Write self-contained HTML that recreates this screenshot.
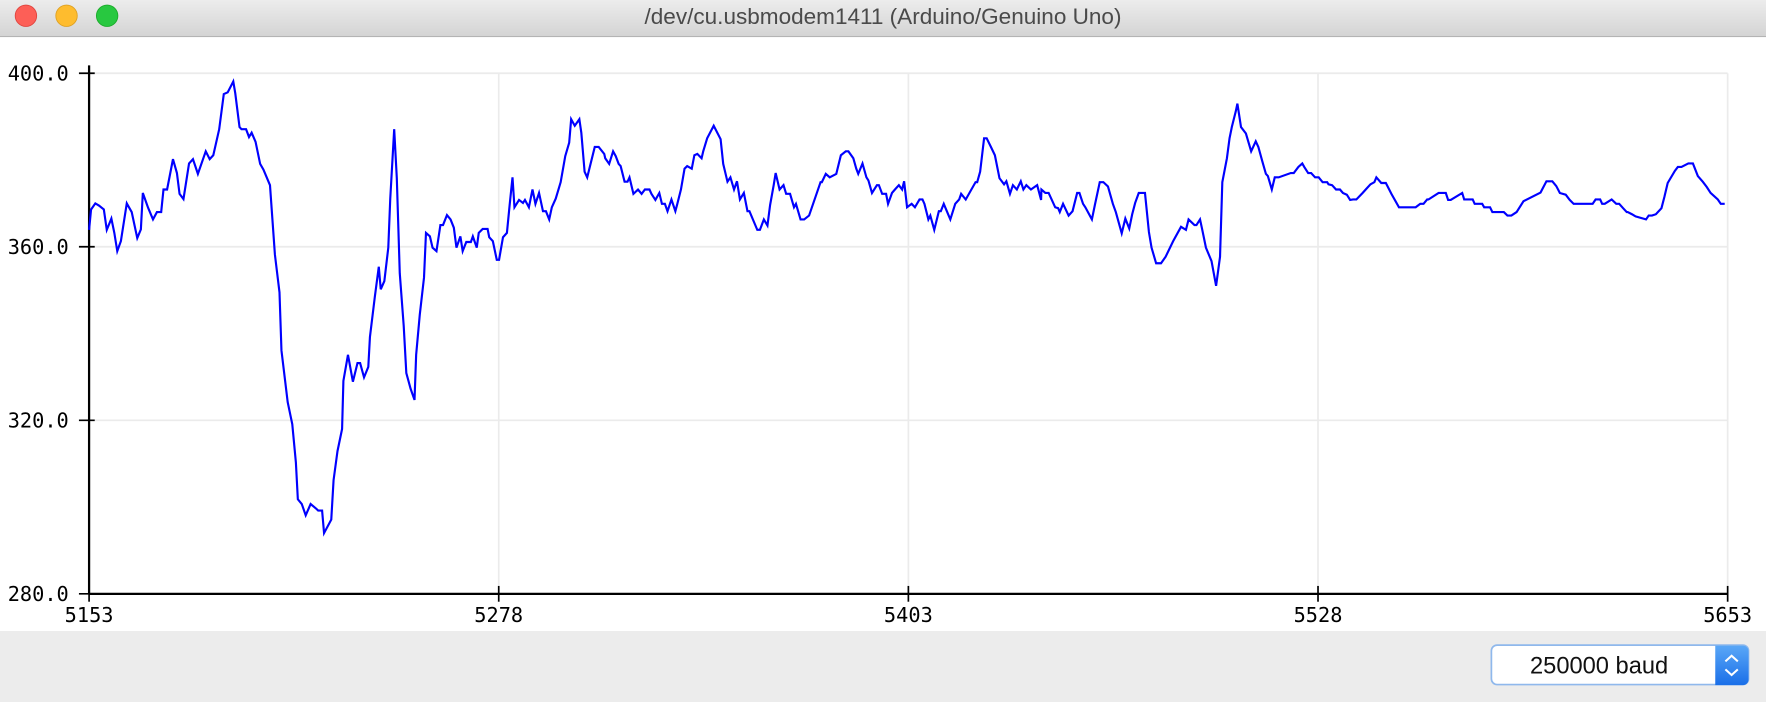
<!DOCTYPE html>
<html><head><meta charset="utf-8"><style>
html,body{margin:0;padding:0;background:#ececec;overflow:hidden}
svg{display:block}
</style></head><body>
<svg id="chart" width="1766" height="702" viewBox="0 0 1566 623" preserveAspectRatio="none" xmlns="http://www.w3.org/2000/svg">
<defs>
<linearGradient id="tb" x1="0" y1="0" x2="0" y2="1"><stop offset="0" stop-color="#ececec"/><stop offset="1" stop-color="#d4d4d4"/></linearGradient>
<linearGradient id="bl" x1="0" y1="0" x2="0" y2="1"><stop offset="0" stop-color="#5aa7f7"/><stop offset="1" stop-color="#1a6fe8"/></linearGradient>
</defs>
<rect x="0" y="0" width="1566" height="623" fill="#ececec"/>
<g>
<rect x="0" y="0" width="1566" height="32" fill="url(#tb)"/>
<line x1="0" y1="32.5" x2="1566" y2="32.5" stroke="#b4b4b4" stroke-width="1"/>
<circle cx="23" cy="14" r="9.5" fill="#fd5f57" stroke="#e0443e" stroke-width="0.8"/>
<circle cx="59" cy="14" r="9.5" fill="#febc2e" stroke="#dea123" stroke-width="0.8"/>
<circle cx="95" cy="14" r="9.5" fill="#28c840" stroke="#1aab29" stroke-width="0.8"/>
<text x="783" y="21.5" text-anchor="middle" font-family="Liberation Sans, sans-serif" font-size="20" fill="#4a4a4a">/dev/cu.usbmodem1411 (Arduino/Genuino Uno)</text>
</g>
<rect x="0" y="33" width="1566" height="527" fill="#ffffff"/>
<g id="grid"></g>
<g id="axes"></g>
<polyline id="series" fill="none" stroke="#0000ff" stroke-width="1.9" stroke-linejoin="miter"/>
<g>
<rect x="1322.5" y="572.5" width="228" height="35" rx="5" fill="#ffffff" stroke="#8fb8ec" stroke-width="1.5"/>
<path d="M1521,573 h24.5 a5 5 0 0 1 5 5 v25 a5 5 0 0 1 -5 5 h-24.5 z" fill="url(#bl)"/>
<path d="M1530,587 l5.5,-5 l5.5,5 M1530,594 l5.5,5 l5.5,-5" fill="none" stroke="#fff" stroke-width="1.8"/>
<text x="1418" y="597.5" text-anchor="middle" font-family="Liberation Sans, sans-serif" font-size="21" fill="#111">250000 baud</text>
</g>
</svg>
<script>
const xTicks = [5153, 5278, 5403, 5528, 5653];
const yTicks = [280, 320, 360, 400];
const startSample = 5153;
const samples = [0,0.6,1.9,3,4.5,5.4,6.8,7.7,8.6,9.7,11.5,13,14.7,15.8,16.4,18,19.5,20.7,22,22.7,23.8,25.6,26.8,27.6,28.8,30.5,31.7,33.2,35.6,36.8,37.9,39.7,41.1,42.3,44,44.6,45.9,46.5,47.9,48.8,49.6,50.8,52.2,53.2,55.2,56.7,58.1,58.7,60.6,62,63.1,63.7,64.9,66.1,67.6,69.2,69.9,71.1,71.7,73.9,74.6,75.8,77.2,77.6,79,80.5,81.9,82.7,83.9,85.2,85.7,87.2,88.4,89,90.1,91.3,91.9,93.1,93.9,94.8,96,96.8,98.1,99.3,99.8,100.9,102.2,102.8,104,104.8,106,107.2,108,109.2,110.3,111.3,112.1,113.3,114,115.1,116.5,117.1,118.3,118.9,120.1,121.6,122.1,123.2,124.4,125.1,126.3,127.5,128.3,129.2,129.8,131.2,132.4,133,134.2,135.3,136.2,137.3,138.5,139.4,140.4,141.2,142.4,143.9,145.3,146.5,147.1,148.2,149.6,150.2,151.2,152,154.3,155.5,157.2,157.5,158.7,159.9,160.7,161.6,162.2,163.4,164.3,164.9,166.1,167.5,168.6,169.6,171,171.6,172.8,174,174.8,175.7,176.5,177.7,178.9,179.5,180.6,181.7,182.5,183.9,184.7,185.6,186.9,187.4,188.6,190.6,192.7,193.5,194.8,195.7,196.8,197.7,198.6,199.8,200.9,201.5,203.9,204.7,205.9,207,207.8,208.9,209.5,210.7,211.9,212.7,213.9,215.1,215.7,217.1,218.2,219.7,223.2,223.6,224.8,226,228,229.4,230.9,231.7,233.2,234.1,234.7,236,237.2,237.8,238.9,240.4,241,242,243.2,243.8,245,245.9,247.1,248.1,248.7,249.6,251,252,253.4,254.3,254.9,256.1,256.7,257.9,259.3,259.9,260.8,262.3,262.8,264.3,265.5,266.1,267.5,270.5,271,271.9,273.1,273.9,275.2,276.4,277.8,279.2,279.9,281,281.9,283.1,284.3,285.1,286,287.4,289.3,290.5,290.6,291.8,292.8,294.8,295.7,296.2,297.2,298.9,300.1,301.5,302.2,303.3,304,306,306.9,308.4,309.5,310.9,312.4,313.3,315.1,316.2,317.4,318.3,319.2,320.3,322.2,323.4,324.2,325.6,327.1,328.5,330.8,333.2,334.7,335.5,337.3,337.9,339,339.6,340.8,342.5,343.9,345.1,345.8,347.2,348,348.7,349.9,350.4,351.5,353,354.6,356,356.8,358,359.1,359.7,360.9,361.8,363,366.7,367.6,369,370.2,370.8,372,372.9,374.1,375.2,376.4,377.8,378.2,379.3,380.5,381.7,382.6,383.8,384.8,385.7,386.7,388.6,389.8,391,392.2,392.8,394.3,395.7,397.4,399.7,403.9,404.8,406.2,407.2,408.3,408.7,411.8,412.8,414,414.7,415.5,419,419.6,422.2,422.8,425.1,425.7,427.5,428.2,431.7,432.8,434,435.6,437.7,442.9,444.7,446.5,447.7,448.8,450.6,451.8,453,458.8,459.7,461.1,461.7,462.5,464.6,466,466.9,468.1,469.2,469.5,470.8,471.9,475.1,475.9,476.9,478.1,479.8,480.7,481.7,483.9,484.8,485.9,488,489.4,490.9,492.4,493.6,494.8,497,497.9,499.1];
const values = [363.9,368.6,370,369.5,368.6,363.9,366.5,363.2,359,361.3,370,368,362,364,372.4,369,366.3,368,368,373.2,373.2,380.2,377,372.2,371,379.2,380.2,376.8,382,380.2,381.1,387.1,395.2,395.6,398.1,395.4,387.6,387.1,387.1,385.3,386.3,384.2,379.1,377.8,374.2,358.2,349.5,336.1,324.2,319.1,310.3,301.8,300.7,298.1,300.7,299.7,299.2,299.2,294,297.1,306.2,312.9,318,329.1,335.1,328.9,333.2,333.2,329.9,332.3,339.2,348.5,355.4,350.2,352.1,359.8,371.1,387.1,375.8,353.9,341.8,330.9,327.3,324.7,335.1,344.3,352.9,363.2,362.4,359.8,359,365,365,367.3,366.3,364.4,359.8,362.4,359,361.1,361.1,362.4,359.8,363.2,364.1,364.1,362.2,361.3,357,357,362.2,363.2,369.4,376,369.1,370.8,370.1,370.8,369.1,373.2,369.9,372.4,368.2,368.2,366.3,369.1,371.1,374.9,380.9,384,389.4,387.9,389.4,386.3,377.3,376,383,383,381.4,380.4,379.1,382,380.9,379.1,378.6,375,375,376,372.2,373.2,372.2,373.2,373.2,372.2,370.8,372.4,369.9,369.9,368.2,370.9,368.2,369.9,373.2,378,378.6,378,381.1,381.4,380.4,382,385,387.9,384.8,379.1,375,376,373.2,375.1,370.9,372.4,368.2,368.2,363.9,363.9,366.3,364.9,369.6,374.2,377,373.2,374.2,372.2,372.2,369.1,369.9,366.3,366.3,367.2,374.9,374.9,376.8,376,376.8,381.1,382,382,380.4,378,376.8,379.2,376,375.3,372.4,374.2,374.2,372.2,372.2,369.9,372.4,373.2,374.2,373.2,375.1,369.1,369.9,369.1,370.9,370.9,369.9,366.3,367.2,363.9,368.2,368.2,369.9,367.2,366.3,369.9,370.9,372.2,370.9,374.9,374.9,377.3,385,385,383,381.1,375.8,374.4,375.1,372.2,374.2,373.2,375.1,373.2,374.2,373.2,374.2,370.8,373.2,372.4,372.4,369.1,368.9,368,369.9,367.2,368.2,372.4,372.4,369.9,369.1,366.3,369.6,374.9,374.9,373.9,369.9,368,363.1,366.5,364.2,367.5,370.1,372.4,372.4,363.4,359.8,356.2,356.2,357.7,361.3,364.6,363.9,366.3,365,365,366.3,364.2,359.8,356.7,351,357.7,374.9,380.4,385,387.6,391.2,393,387.6,386.1,382,384.3,383,379.7,376.8,376.3,373.2,376,376,377,377,378.4,379.2,378.4,377,377,376,376,374.9,374.9,374.4,374.2,373.2,373.2,372.4,372,370.8,370.9,370.9,372.4,373.4,374.4,374.9,376,374.7,374.7,372.2,369.1,369.1,369.1,369.9,369.9,370.9,370.9,372.4,372.4,372.4,370.8,370.8,372.4,370.9,370.9,369.9,369.9,369.1,369.1,368,368,367.2,367.2,368,370.5,372.5,375.1,375.1,374,372.4,372,370.8,369.9,369.9,370.9,370.9,369.9,369.9,370.9,369.9,369.9,368.9,368,368,367.5,367,366.3,367.2,367.2,367.5,368.9,371.5,374.7,377.5,378.4,378.4,379.2,379.2,376.3,375,373.8,372.4,370.9,369.9,369.9,369.1,368];

const L=79,R=1532,T=65,B=527;
const xS = v => L + (v - xTicks[0]) / (xTicks[xTicks.length-1] - xTicks[0]) * (R - L);
const yS = v => B - (v - yTicks[0]) / (yTicks[yTicks.length-1] - yTicks[0]) * (B - T);
const NS='http://www.w3.org/2000/svg';
const grid=document.getElementById('grid'), axes=document.getElementById('axes');
function mk(tag,attrs,parent){const e=document.createElementNS(NS,tag);for(const k in attrs)e.setAttribute(k,attrs[k]);parent.appendChild(e);return e;}
const tickFont='DejaVu Sans Mono, Liberation Mono, monospace';

yTicks.forEach(t=>{
  const y=yS(t);
  if(t!==yTicks[0]){
    const g=mk('line',{x1:L,x2:R,y1:y,y2:y,stroke:'#ebebeb','stroke-width':1.5},grid);
    
    
  }
  const tk=mk('line',{x1:L-9,x2:L+5,y1:y,y2:y,stroke:'#000','stroke-width':1.5},axes);
  
  
  const lb=mk('text',{x:L-18,y:y+6.5,'text-anchor':'end','font-family':tickFont,'font-size':18,fill:'#000'},axes);
  lb.textContent=t.toFixed(1);
  
  
});
xTicks.forEach((t,i)=>{
  const x=xS(t);
  if(i>0){
    const g=mk('line',{x1:x,x2:x,y1:T,y2:B,stroke:'#ebebeb','stroke-width':1.5},grid);
    
    
  }
  const tk=mk('line',{x1:x,x2:x,y1:B-7,y2:B+7,stroke:'#000','stroke-width':1.5},axes);
  
  
  const lb=mk('text',{x:x,y:B+25,'text-anchor':'middle','font-family':tickFont,'font-size':18,fill:'#000'},axes);
  lb.textContent=String(t);
  
  
});
const ya=mk('line',{x1:L,x2:L,y1:T-7,y2:B,stroke:'#000','stroke-width':2},axes);


const xa=mk('line',{x1:L,x2:R,y1:B,y2:B,stroke:'#000','stroke-width':2},axes);



document.getElementById('series').setAttribute('points',
  samples.map((s,i)=>xS(startSample+s).toFixed(2)+','+yS(values[i]).toFixed(2)).join(' '));
</script>
</body></html>
